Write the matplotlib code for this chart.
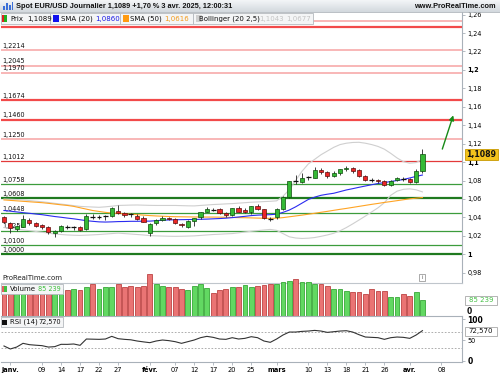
# -*- coding: utf-8 -*-
import numpy as np
import matplotlib
matplotlib.use('Agg')
import matplotlib.pyplot as plt
from matplotlib.patches import Rectangle, FancyArrowPatch
import matplotlib.transforms as mtransforms

W, H = 500, 375

# daily candles, 31 dec. 2024 -> 3 avr. 2025 (index 0..66)
opens = [1.0401, 1.0343, 1.0274, 1.0300, 1.0372, 1.0343, 1.0318, 1.0293, 1.0234, 1.0256,
	1.0295, 1.0290, 1.0293, 1.0271, 1.0405, 1.0410, 1.0406, 1.0419, 1.0473, 1.0445,
	1.0430, 1.0415, 1.0390, 1.0228, 1.0336, 1.0372, 1.0397, 1.0380, 1.0325, 1.0300,
	1.0364, 1.0401, 1.0462, 1.0482, 1.0488, 1.0445, 1.0426, 1.0500, 1.0482, 1.0462,
	1.0524, 1.0488, 1.0395, 1.0401, 1.0488, 1.0618, 1.0790, 1.0781, 1.0831, 1.0831,
	1.0914, 1.0889, 1.0853, 1.0878, 1.0925, 1.0936, 1.0914, 1.0853, 1.0810, 1.0806,
	1.0795, 1.0752, 1.0806, 1.0818, 1.0813, 1.0788, 1.0907]
highs = [1.0418, 1.0352, 1.0318, 1.0430, 1.0392, 1.0352, 1.0330, 1.0305, 1.0262, 1.0320,
	1.0318, 1.0310, 1.0305, 1.0440, 1.0435, 1.0430, 1.0428, 1.0510, 1.0530, 1.0460,
	1.0450, 1.0440, 1.0420, 1.0340, 1.0385, 1.0420, 1.0410, 1.0395, 1.0336, 1.0370,
	1.0395, 1.0460, 1.0515, 1.0500, 1.0500, 1.0455, 1.0505, 1.0528, 1.0500, 1.0528,
	1.0545, 1.0492, 1.0405, 1.0500, 1.0630, 1.0800, 1.0855, 1.0885, 1.0850, 1.0945,
	1.0935, 1.0905, 1.0905, 1.0930, 1.0955, 1.0945, 1.0925, 1.0860, 1.0830, 1.0815,
	1.0805, 1.0810, 1.0840, 1.0835, 1.0828, 1.0920, 1.1144]
lows = [1.0340, 1.0228, 1.0258, 1.0296, 1.0320, 1.0300, 1.0280, 1.0218, 1.0190, 1.0240,
	1.0270, 1.0268, 1.0255, 1.0265, 1.0378, 1.0385, 1.0375, 1.0410, 1.0435, 1.0410,
	1.0405, 1.0375, 1.0350, 1.0195, 1.0318, 1.0360, 1.0370, 1.0328, 1.0298, 1.0290,
	1.0310, 1.0380, 1.0455, 1.0465, 1.0440, 1.0405, 1.0415, 1.0455, 1.0450, 1.0440,
	1.0480, 1.0380, 1.0360, 1.0385, 1.0480, 1.0610, 1.0760, 1.0770, 1.0810, 1.0825,
	1.0870, 1.0830, 1.0840, 1.0860, 1.0900, 1.0880, 1.0835, 1.0795, 1.0780, 1.0770,
	1.0745, 1.0740, 1.0790, 1.0795, 1.0775, 1.0775, 1.0880]
closes = [1.0347, 1.0282, 1.0307, 1.0380, 1.0336, 1.0310, 1.0293, 1.0239, 1.0253, 1.0307,
	1.0291, 1.0296, 1.0264, 1.0415, 1.0410, 1.0406, 1.0412, 1.0499, 1.0445, 1.0423,
	1.0433, 1.0386, 1.0354, 1.0329, 1.0372, 1.0397, 1.0386, 1.0336, 1.0315, 1.0364,
	1.0390, 1.0455, 1.0488, 1.0480, 1.0445, 1.0423, 1.0500, 1.0462, 1.0459, 1.0524,
	1.0488, 1.0390, 1.0388, 1.0488, 1.0618, 1.0792, 1.0795, 1.0831, 1.0835, 1.0914,
	1.0889, 1.0853, 1.0878, 1.0922, 1.0935, 1.0905, 1.0853, 1.0806, 1.0802, 1.0790,
	1.0752, 1.0795, 1.0824, 1.0815, 1.0788, 1.0907, 1.1089]

sma20 = [1.0475, 1.0468, 1.0460, 1.0452, 1.0445, 1.0437, 1.0430, 1.0420, 1.0410, 1.0402,
	1.0393, 1.0385, 1.0375, 1.0365, 1.0358, 1.0352, 1.0350, 1.0352, 1.0355, 1.0356,
	1.0358, 1.0358, 1.0360, 1.0360, 1.0365, 1.0370, 1.0373, 1.0375, 1.0376, 1.0377,
	1.0378, 1.0380, 1.0382, 1.0385, 1.0388, 1.0392, 1.0398, 1.0405, 1.0412, 1.0420,
	1.0425, 1.0428, 1.0430, 1.0435, 1.0455, 1.0480, 1.0515, 1.0555, 1.0595, 1.0620,
	1.0640, 1.0652, 1.0662, 1.0680, 1.0698, 1.0712, 1.0727, 1.0741, 1.0755, 1.0768,
	1.0778, 1.0790, 1.0800, 1.0812, 1.0828, 1.0845, 1.0860]
sma50 = [1.0590, 1.0585, 1.0580, 1.0575, 1.0570, 1.0565, 1.0560, 1.0553, 1.0545, 1.0537,
	1.0530, 1.0520, 1.0505, 1.0490, 1.0475, 1.0465, 1.0455, 1.0448, 1.0443, 1.0440,
	1.0435, 1.0430, 1.0425, 1.0420, 1.0416, 1.0413, 1.0410, 1.0408, 1.0407, 1.0406,
	1.0405, 1.0405, 1.0404, 1.0404, 1.0403, 1.0402, 1.0400, 1.0398, 1.0397, 1.0395,
	1.0393, 1.0391, 1.0390, 1.0392, 1.0398, 1.0407, 1.0416, 1.0425, 1.0435, 1.0445,
	1.0456, 1.0466, 1.0477, 1.0488, 1.0498, 1.0509, 1.0520, 1.0531, 1.0542, 1.0552,
	1.0563, 1.0572, 1.0582, 1.0592, 1.0602, 1.0609, 1.0616]
boll_up = [1.0600, 1.0597, 1.0594, 1.0590, 1.0583, 1.0576, 1.0570, 1.0562, 1.0553, 1.0545,
	1.0537, 1.0528, 1.0520, 1.0516, 1.0513, 1.0510, 1.0515, 1.0522, 1.0530, 1.0532,
	1.0534, 1.0535, 1.0533, 1.0531, 1.0530, 1.0530, 1.0530, 1.0530, 1.0528, 1.0526,
	1.0525, 1.0530, 1.0535, 1.0540, 1.0543, 1.0547, 1.0550, 1.0555, 1.0560, 1.0565,
	1.0568, 1.0572, 1.0575, 1.0580, 1.0630, 1.0700, 1.0800, 1.0900, 1.0980, 1.1030,
	1.1080, 1.1120, 1.1160, 1.1190, 1.1205, 1.1213, 1.1215, 1.1205, 1.1190, 1.1170,
	1.1140, 1.1095, 1.1045, 1.1005, 1.0988, 1.0995, 1.1030]
boll_dn = [1.0290, 1.0282, 1.0274, 1.0265, 1.0257, 1.0248, 1.0240, 1.0230, 1.0220, 1.0215,
	1.0210, 1.0207, 1.0205, 1.0208, 1.0211, 1.0215, 1.0220, 1.0225, 1.0230, 1.0225,
	1.0220, 1.0215, 1.0210, 1.0203, 1.0200, 1.0198, 1.0196, 1.0195, 1.0196, 1.0198,
	1.0200, 1.0205, 1.0210, 1.0215, 1.0218, 1.0222, 1.0225, 1.0233, 1.0242, 1.0250,
	1.0257, 1.0264, 1.0270, 1.0260, 1.0225, 1.0190, 1.0177, 1.0172, 1.0175, 1.0182,
	1.0195, 1.0210, 1.0228, 1.0255, 1.0290, 1.0330, 1.0372, 1.0415, 1.0460, 1.0505,
	1.0560, 1.0640, 1.0685, 1.0705, 1.0710, 1.0700, 1.0677]

# volume (thousands) and bar colour (r = down, g = up)
volume = [160, 165, 150, 165, 155, 150, 150, 160, 155, 150,
	143, 152, 143, 158, 177, 149, 158, 158, 180, 158,
	165, 158, 167, 233, 175, 165, 158, 158, 149, 143,
	165, 177, 154, 126, 143, 149, 158, 158, 171, 162,
	165, 171, 177, 177, 186, 195, 205, 186, 186, 180,
	177, 165, 149, 149, 139, 135, 130, 122, 147, 137,
	141, 102, 102, 124, 113, 130, 85.239]
vol_dir = 'rrggrrrrgg' + 'rgrgrgggrr' + 'rrrrggrrrg' + 'gggrrrgrgg' + 'rrrgggrggg' + 'rrgggrrrrr' + 'rggrrgg'

rsi = [35.6, 28.4, 33.0, 42.0, 38.8, 37.5, 36.4, 33.0, 34.0, 39.6,
	39.5, 40.4, 37.2, 52.4, 52.0, 51.6, 52.4, 58.8, 53.2, 51.6,
	50.5, 47.6, 45.5, 43.6, 47.6, 50.0, 48.5, 46.0, 42.0, 46.0,
	50.0, 55.6, 58.8, 56.4, 52.4, 51.6, 55.6, 52.4, 54.0, 58.0,
	55.6, 47.6, 44.4, 52.4, 62.0, 69.2, 69.2, 70.8, 71.6, 73.2,
	71.6, 68.4, 70.0, 71.6, 72.4, 69.2, 62.8, 57.2, 56.4, 55.6,
	51.6, 55.6, 57.2, 56.4, 54.0, 62.0, 72.57]

# support / resistance levels
res_light = [1.2534, 1.2214, 1.2045, 1.1970, 1.1250]
res_strong = [1.2466, 1.1674, 1.1460]
res_thin = [1.1012]
sup_green = [1.0758, 1.0448, 1.0256, 1.0100]
sup_strong = [1.0608, 1.0000]

date_idx = [1, 6, 9, 12, 15, 18, 23, 27, 30, 33, 36, 39, 43, 48, 51, 54, 57, 60, 64, 69]
date_lab = ['janv.', '09', '14', '17', '22', '27', 'févr.', '07', '12', '17', '20', '25',
	'mars', '10', '13', '18', '21', '26', 'avr.', '08']
months = ['janv.', 'févr.', 'mars', 'avr.']
price_ticks = [0.98, 1.00, 1.02, 1.04, 1.06, 1.08, 1.10, 1.12, 1.14, 1.16, 1.18, 1.20, 1.22, 1.24, 1.26]
arrow_from = (69.0, 1.1113)
arrow_to = (71.0, 1.1536)

title = 'Spot EUR/USD Journalier 1,1089 +1,70 % 3 avr. 2025, 12:00:31'

plt.rcParams['font.family'] = ['DejaVu Sans']

def fx(x):
	return x / W

def fy(y):
	return 1 - y / H

def fmt(v):
	s = ('%.2f' % v).rstrip('0').rstrip('.')
	return s.replace('.', ',')

AX = '#a9b1b9'
x = np.arange(len(closes))
xlim = (-0.47, 72.24)

fig = plt.figure(figsize=(5, 3.75), dpi=100)

# ---- price panel ----
ax = fig.add_axes([fx(1), fy(283), fx(462) - fx(1), (283 - 12) / H])
ax.set_xlim(*xlim)
ax.set_ylim(0.9689, 1.2628)
for s in ['top', 'left']:
	ax.spines[s].set_visible(False)
ax.spines['right'].set_color(AX)
ax.spines['bottom'].set_color('#c0c6cc')
ax.spines['right'].set_linewidth(0.8)
ax.spines['bottom'].set_linewidth(0.8)
ax.set_xticks([])
ax.yaxis.tick_right()
ax.set_yticks(price_ticks)
ax.set_yticklabels([fmt(v) for v in price_ticks])
ax.tick_params(axis='y', length=2.5, width=0.6, color=AX, labelsize=4.7, pad=1.5)
for t, v in zip(ax.get_yticklabels(), price_ticks):
	if abs(v * 10 - round(v * 10)) < 1e-6:
		t.set_fontweight('bold')

for lv in res_light:
	ax.axhline(lv, color='#f7aaaa', lw=1.2, zorder=1)
for lv in res_strong:
	ax.axhline(lv, color='#f24a4a', lw=1.6, zorder=1)
for lv in res_thin:
	ax.axhline(lv, color='#e33a3a', lw=0.9, zorder=1)
for lv in sup_green:
	ax.axhline(lv, color='#3c9c3c', lw=0.9, zorder=1)
for lv in sup_strong:
	ax.axhline(lv, color='#1f7a1f', lw=1.6, zorder=1)

trans = mtransforms.blended_transform_factory(ax.transAxes, ax.transData)
for lv in res_light + res_strong + res_thin + sup_green + sup_strong:
	if lv < 1.24:
		ax.annotate(('%.4f' % lv).replace('.', ','), xy=(0.002, lv), xycoords=trans,
			xytext=(0, 1.0), textcoords='offset points', fontsize=4.7, va='bottom',
			ha='left', color='#111111', zorder=2)

ax.plot(x, boll_up, color='#cfcfcf', lw=0.8, zorder=2)
ax.plot(x, boll_dn, color='#cfcfcf', lw=0.8, zorder=2)
ax.plot(x, sma50, color='#ffa424', lw=0.8, zorder=3)
ax.plot(x, sma20, color='#2b2bf0', lw=0.8, zorder=3)

for i in range(len(closes)):
	o, h, l, c = opens[i], highs[i], lows[i], closes[i]
	ax.vlines(i, l, h, color='#222222', lw=0.6, zorder=4)
	if abs(c - o) < 0.0009:
		ax.hlines(c, i - 0.38, i + 0.38, color='#111111', lw=0.9, zorder=5)
		continue
	if c > o:
		fc, ec = '#35b935', '#0d4d0d'
	else:
		fc, ec = '#ec2626', '#5a0d0d'
	ax.add_patch(Rectangle((i - 0.33, min(o, c)), 0.66, abs(c - o), facecolor=fc,
		edgecolor=ec, lw=0.5, zorder=5))

ax.add_patch(FancyArrowPatch(arrow_from, arrow_to, arrowstyle='-|>', mutation_scale=7,
	color='#178a17', lw=1.0, zorder=6))

# ---- volume panel ----
axv = fig.add_axes([fx(1), fy(315.7), fx(462) - fx(1), (315.7 - 270) / H])
axv.patch.set_visible(False)
axv.set_xlim(*xlim)
axv.set_ylim(0, 256)
for s in axv.spines.values():
	s.set_visible(False)
axv.set_xticks([])
axv.set_yticks([])
for i in range(len(volume)):
	if vol_dir[i] == 'g':
		fc, ec = '#62d862', '#1f9a1f'
	else:
		fc, ec = '#ea7474', '#b22c2c'
	axv.bar(i, volume[i], width=0.76, color=fc, edgecolor=ec, lw=0.5)

# ---- RSI panel ----
axr = fig.add_axes([fx(1), fy(362), fx(462) - fx(1), (362 - 315.7) / H])
axr.set_xlim(*xlim)
axr.set_ylim(-3.0, 108.6)
axr.spines['left'].set_visible(False)
for s in ['top', 'bottom', 'right']:
	axr.spines[s].set_color(AX)
	axr.spines[s].set_linewidth(0.8)
axr.axhline(70, color='#a0a0a0', lw=0.6, ls=(0, (2, 2)))
axr.axhline(30, color='#a0a0a0', lw=0.6, ls=(0, (2, 2)))
axr.plot(x, rsi, color='#333333', lw=0.8)
axr.yaxis.tick_right()
axr.set_yticks([0, 50, 100])
axr.set_yticklabels(['0', '50', '100'])
axr.tick_params(axis='y', length=2.5, width=0.6, color=AX, labelsize=5.5, pad=1.5)
for t in axr.get_yticklabels():
	if t.get_text() != '50':
		t.set_fontweight('bold')
	else:
		t.set_fontsize(4.7)
axr.set_xticks(date_idx)
axr.set_xticklabels(date_lab)
axr.tick_params(axis='x', length=2.5, width=0.6, color=AX, labelsize=4.8, pad=1.2)
for t in axr.get_xticklabels():
	if t.get_text() in months:
		t.set_fontweight('bold')

# ---- header ----
axh = fig.add_axes([0, fy(12), 1, 12 / H])
axh.imshow(np.linspace(0, 1, 20).reshape(-1, 1), cmap=matplotlib.colors.LinearSegmentedColormap.from_list(
	'hd', ['#f3f5f7', '#d3d9de']), aspect='auto', extent=(0, 1, 0, 1), origin='upper')
axh.set_xlim(0, 1)
axh.set_ylim(0, 1)
axh.axis('off')
fig.add_artist(plt.Line2D([0, 1], [fy(12), fy(12)], transform=fig.transFigure, color='#b0b6bc', lw=0.6))
for bx, bh in [(3, 4), (6, 7), (9, 5), (11.5, 8)]:
	fig.add_artist(Rectangle((fx(bx), fy(10)), 1.6 / W, bh / H, transform=fig.transFigure,
		facecolor='#3b6fd8', edgecolor='none'))
fig.text(fx(16), fy(6.3), title, fontsize=5.3, fontweight='bold', family='Liberation Sans',
	va='center', ha='left', color='#111111')
fig.text(fx(496), fy(6.3), 'www.ProRealTime.com', fontsize=5.3, fontweight='bold',
	family='Liberation Sans', va='center', ha='right', color='#111111')

# ---- legend row ----
def box(x0, x1, y0, y1, fc='#f4f5f6', ec='#b4b9be', lw=0.6):
	fig.add_artist(Rectangle((fx(x0), fy(y1)), (x1 - x0) / W, (y1 - y0) / H,
		transform=fig.transFigure, facecolor=fc, edgecolor=ec, lw=lw))

def txt(x0, y0, s, color='#111111', size=5.0, weight='normal', ha='left'):
	fig.text(fx(x0), fy(y0), s, fontsize=size, color=color, fontweight=weight,
		va='center', ha=ha)

box(0.5, 50, 13, 24)
box(50, 120, 13, 24)
box(120, 193, 13, 24)
box(193, 313, 13, 24)
box(1.5, 4, 15.5, 21.5, fc='#e02020', ec='none')
box(4, 6.5, 15.5, 21.5, fc='#20b020', ec='none')
box(53, 58.5, 15.5, 21.5, fc='#1010ee', ec='none')
box(123, 128.5, 15.5, 21.5, fc='#ff9a10', ec='none')
box(196, 201.5, 15.5, 21.5, fc='#cfcfcf', ec='none')
txt(10, 18.7, 'Prix')
txt(27, 18.7, '1,1089')
txt(61, 18.7, 'SMA (20)')
txt(95, 18.7, '1,0860', color='#1a1ae6')
txt(130, 18.7, 'SMA (50)')
txt(164, 18.7, '1,0616', color='#f39a1a')
txt(199, 18.7, 'Bollinger (20 2,5)')
txt(259, 18.7, '1,1043', color='#c4c4c4')
txt(286, 18.7, '1,0677', color='#c4c4c4')

# volume / rsi legends
txt(2, 278, 'ProRealTime.com', color='#222222', size=5.0)
box(0.5, 63, 283.5, 294)
box(1.5, 4, 286, 291.5, fc='#e06060', ec='none')
box(4, 6.5, 286, 291.5, fc='#40c040', ec='none')
txt(10, 288.8, 'Volume')
txt(38, 288.8, '85 239', color='#3cbf3c', size=4.7)
box(0.5, 63, 317, 327)
box(1.5, 6.5, 319.5, 325, fc='#111111', ec='none')
txt(10, 322.2, 'RSI (14)')
txt(38, 322.2, '72,570', size=4.7)
box(419, 424.5, 274, 280.5, fc='white', ec='#888888', lw=0.5)
txt(421.8, 277.3, 'i', size=4.0, ha='center', color='#555555')

# right side value tags
box(465, 498, 148.5, 160, fc='#f3c31c', ec='#c99a00', lw=0.6)
txt(481.5, 154.3, '1,1089', size=5.6, weight='bold', ha='center')
box(465, 497, 295.5, 304.5, fc='white', ec='#a8a8a8', lw=0.6)
txt(481, 300, '85 239', size=5.0, color='#45c045', ha='center')
box(465, 497, 327, 336, fc='white', ec='#a8a8a8', lw=0.6)
txt(481, 331.5, '72,570', size=5.0, ha='center')
txt(467, 311, '0', size=5.5, weight='bold')

fig.savefig('out.png', dpi=100)
